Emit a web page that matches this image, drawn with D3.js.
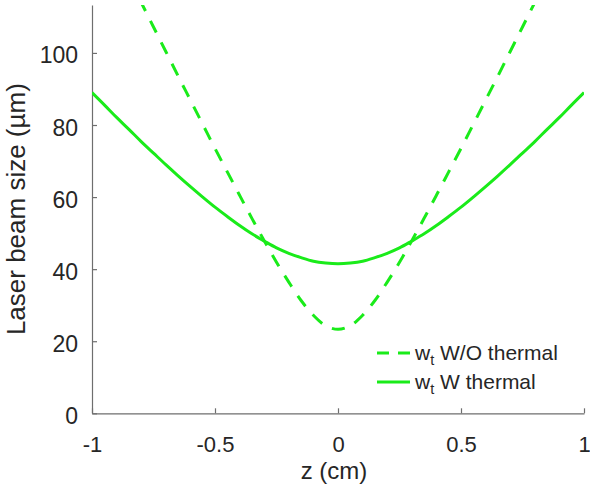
<!DOCTYPE html>
<html><head><meta charset="utf-8">
<script src="https://cdn.jsdelivr.net/npm/d3@7"></script>
<style>body{margin:0;background:#fff;} svg{display:block;}</style>
</head><body>
<svg id="c" width="590" height="484"></svg>
<script>
const zSolid = [-1,-0.95,-0.9,-0.85,-0.8,-0.75,-0.7,-0.65,-0.6,-0.55,-0.5,-0.45,-0.4,-0.35,-0.3,-0.25,-0.2,-0.15,-0.1,-0.05,0,0.05,0.1,0.15,0.2,0.25,0.3,0.35,0.4,0.45,0.5,0.55,0.6,0.65,0.7,0.75,0.8,0.85,0.9,0.95,1];
const wThermal = [89.0,85.6,82.1,78.8,75.4,72.2,69.0,65.9,62.9,60.0,57.2,54.6,52.1,49.8,47.8,45.9,44.4,43.2,42.2,41.7,41.5,41.7,42.2,43.2,44.4,45.9,47.8,49.8,52.1,54.6,57.2,60.0,62.9,65.9,69.0,72.2,75.4,78.8,82.1,85.6,89.0];
const zDashed = [-0.85,-0.8,-0.75,-0.7,-0.65,-0.6,-0.55,-0.5,-0.45,-0.4,-0.35,-0.3,-0.25,-0.2,-0.15,-0.1,-0.05,0,0.05,0.1,0.15,0.2,0.25,0.3,0.35,0.4,0.45,0.5,0.55,0.6,0.65,0.7,0.75,0.8,0.85];
const wNoThermal = [120.8,114.0,107.2,100.4,93.6,86.9,80.2,73.5,67.0,60.5,54.1,47.9,41.9,36.4,31.3,27.2,24.3,23.3,24.3,27.2,31.3,36.4,41.9,47.9,54.1,60.5,67.0,73.5,80.2,86.9,93.6,100.4,107.2,114.0,120.8];
const xTicks = [-1,-0.5,0,0.5,1];
const xTickLabels = ["-1","-0.5","0","0.5","1"];
const yTicks = [0,20,40,60,80,100];
const legendLabels = [["w","t"," W/O thermal"],["w","t"," W thermal"]];

const svg = d3.select("#c");
const L = 92, R = 584, T = 5, B = 413.3;
const x = d3.scaleLinear().domain([-1,1]).range([L,R]);
const y = d3.scaleLinear().domain([0,113.3]).range([B,T]);
const green = "#1aeb1a";
const axisCol = "#6e6e6e", textCol = "#262626";
const font = "'Liberation Sans', Arial, Helvetica, sans-serif";

svg.append("defs").append("clipPath").attr("id","clip")
  .append("rect").attr("x",L).attr("y",T).attr("width",R-L).attr("height",B-T);

// axes
const xAxis = d3.axisBottom(x).tickValues(xTicks).tickFormat((d,i)=>xTickLabels[i]).tickSizeInner(-5).tickSizeOuter(0).tickPadding(0);
const gx = svg.append("g").attr("transform",`translate(0,${B})`).call(xAxis);
gx.select(".domain").attr("stroke",axisCol).attr("stroke-width",1.2);
gx.selectAll(".tick line").attr("stroke",axisCol).attr("stroke-width",1.2);
gx.selectAll(".tick text").attr("fill",textCol).attr("font-family",font).attr("font-size",22)
  .attr("y",0).attr("dy",38.7);

const yAxis = d3.axisLeft(y).tickValues(yTicks).tickSizeInner(-5).tickSizeOuter(0).tickPadding(0);
const gy = svg.append("g").attr("transform",`translate(${L},0)`).call(yAxis);
gy.select(".domain").attr("stroke",axisCol).attr("stroke-width",1.2);
gy.selectAll(".tick line").attr("stroke",axisCol).attr("stroke-width",1.2);
gy.selectAll(".tick text").attr("fill",textCol).attr("font-family",font).attr("font-size",23)
  .attr("x",-14).attr("dy",10).attr("text-anchor","end");

// axis labels
svg.append("text").attr("x",(L+R)/2 - 4).attr("y",478.5).attr("text-anchor","middle")
  .attr("font-family",font).attr("font-size",24).attr("fill",textCol).text("z (cm)");
svg.append("text").attr("transform",`translate(25,${(T+B)/2}) rotate(-90)`).attr("text-anchor","middle")
  .attr("font-family",font).attr("font-size",26).attr("fill",textCol).text("Laser beam size (µm)");

// lines
const line = d3.line().x(d=>x(d[0])).y(d=>y(d[1])).curve(d3.curveCatmullRom.alpha(0.5));
const plot = svg.append("g").attr("clip-path","url(#clip)");
plot.append("path").datum(zDashed.map((z,i)=>[z,wNoThermal[i]]))
  .attr("d",line).attr("fill","none").attr("stroke",green).attr("stroke-width",3)
  .attr("stroke-dasharray","13,11");
plot.append("path").datum(zSolid.map((z,i)=>[z,wThermal[i]]))
  .attr("d",line).attr("fill","none").attr("stroke",green).attr("stroke-width",3);

// legend
const lg = svg.append("g");
const rows = [{y:353, dash:"12,9"},{y:382, dash:null}];
rows.forEach((r,i)=>{
  const ln = lg.append("line").attr("x1",377).attr("x2",410).attr("y1",r.y).attr("y2",r.y)
    .attr("stroke",green).attr("stroke-width",3);
  if (r.dash) ln.attr("stroke-dasharray",r.dash);
  const t = lg.append("text").attr("x",415).attr("y",r.y+6.5).attr("font-family",font)
    .attr("font-size",21).attr("fill",textCol);
  t.append("tspan").text(legendLabels[i][0]);
  t.append("tspan").attr("font-size",14.5).attr("dy",5).text(legendLabels[i][1]);
  t.append("tspan").attr("dy",-5).text(legendLabels[i][2]);
});
</script>
</body></html>
